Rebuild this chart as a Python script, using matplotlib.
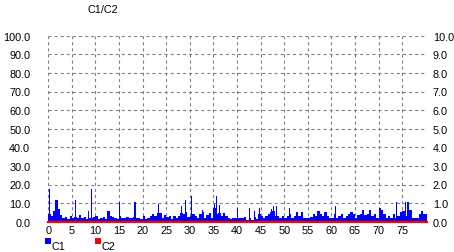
import matplotlib
matplotlib.use("Agg")
import matplotlib.pyplot as plt
import numpy as np
from matplotlib.patches import Rectangle

plt.rcParams["font.family"] = ["Liberation Sans", "DejaVu Sans"]
plt.rcParams["lines.scale_dashes"] = False

# C1 base level, one value per 0.5 step starting at 0
c1_step = 0.5
c1 = [
    4.0, 2.8, 5.9, 11.5, 6.8, 3.5, 2.0, 2.5, 1.2, 2.8,
    2.2, 2.5, 2.0, 3.5, 2.2, 2.5, 1.5, 2.0, 2.0, 2.5,
    3.0, 1.5, 2.0, 2.5, 1.2, 6.0, 3.0, 2.5, 2.2, 1.2,
    3.0, 1.8, 1.8, 2.5, 2.0, 2.0, 2.5, 1.8, 2.0, 1.5,
    2.8, 1.5, 2.2, 2.8, 4.2, 2.8, 4.5, 4.5, 1.8, 3.6,
    2.5, 2.8, 1.5, 2.8, 2.2, 2.8, 4.5, 4.0, 5.0, 2.5,
    2.8, 4.2, 2.8, 1.8, 3.9, 5.0, 2.2, 3.5, 4.5, 1.8,
    7.2, 4.3, 4.5, 3.2, 4.5, 2.8, 2.2, 1.5, 1.8, 2.2,
    1.8, 2.2, 1.8, 2.5, 1.1, 2.2, 1.1, 2.5, 1.5, 4.3,
    2.9, 1.8, 3.2, 4.3, 5.0, 6.0, 3.2, 3.2, 2.2, 3.2,
    2.2, 2.9, 3.9, 2.2, 2.9, 5.0, 2.9, 5.0, 1.8, 2.2,
    1.8, 2.5, 3.9, 3.2, 5.8, 4.3, 3.2, 5.0, 3.2, 2.2,
    1.8, 4.3, 1.8, 3.2, 3.9, 1.8, 3.2, 4.3, 5.0, 4.3,
    2.2, 3.6, 4.3, 6.5, 3.6, 4.3, 6.5, 3.2, 4.3, 1.8,
    7.2, 6.5, 3.9, 2.2, 2.9, 1.8, 4.3, 2.2, 3.2, 5.0,
    5.5, 3.2, 6.8, 6.5, 2.2, 1.8, 2.2, 4.3, 5.5, 4.3,
    4.3,
]

# narrow C1 peaks
peak_x = [0.05, 5.6, 8.4, 8.95, 15.05, 18.25, 23.2, 28.1, 29.0, 30.2,
          32.6, 35.1, 35.5, 36.1, 40.0, 42.6, 43.6, 44.6, 47.1, 47.6,
          48.3, 51.0, 60.8, 73.7, 75.6, 76.1]
peak_h = [17.6, 11.8, 5.8, 17.6, 10.6, 10.6, 9.5, 8.6, 11.5, 14.0,
          6.5, 9.5, 14.0, 9.0, 7.1, 7.1, 5.8, 7.2, 7.0, 8.6,
          8.6, 7.2, 8.6, 10.4, 10.4, 10.4]

# C2 sits on the baseline across the whole range
c2_x = [0.0, 80.2]
c2 = [0.0, 0.0]

left_ticks = [0, 10, 20, 30, 40, 50, 60, 70, 80, 90, 100]
right_ticks = [0, 1, 2, 3, 4, 5, 6, 7, 8, 9, 10]
x_ticks = list(range(0, 80, 5))

W, H = 454, 253
fig = plt.figure(figsize=(W / 100, H / 100), dpi=100)
x0, x1, ytop, ybot = 48.3, 426.7, 36.7, 222.7
ax = fig.add_axes([x0 / W, (H - ybot) / H, (x1 - x0) / W, (ybot - ytop) / H])

xs = np.arange(len(c1)) * c1_step
ax.bar(xs, c1, width=c1_step, align="edge", color="#0000ff", linewidth=0,
       antialiased=False, zorder=2)
ax.bar(peak_x, peak_h, width=0.25, align="edge", color="#0000ff", linewidth=0,
       antialiased=False, zorder=2)

ax.set_xlim(0, 80.2)
ax.set_ylim(0, 100)
ax.set_xticks(x_ticks)
ax.set_xticklabels([str(t) for t in x_ticks])
ax.set_yticks(left_ticks)
ax.set_yticklabels([f"{t:.1f}" for t in left_ticks])
ax.grid(True, color="#808080", linestyle=(0, (2.2, 2.2)), linewidth=0.8)
ax.set_axisbelow(True)
ax.tick_params(axis="both", length=0, labelsize=7.8, colors="black")
ax.tick_params(axis="y", pad=13.0)
ax.tick_params(axis="x", pad=2.5)
for s in ax.spines.values():
    s.set_visible(False)

ax2 = ax.twinx()
ax2.set_ylim(0, 10)
ax2.set_yticks(right_ticks)
ax2.set_yticklabels([f"{t:.1f}" for t in right_ticks])
ax2.tick_params(axis="y", length=0, labelsize=7.8, pad=4.5)
ax2.plot(c2_x, c2, color="#ff0000", linewidth=1.6, clip_on=False, zorder=3)
for s in ax2.spines.values():
    s.set_visible(False)

fig.text(103 / W, 1 - 10 / H, "C1/C2", ha="center", va="center", fontsize=7.8)

# legend
for lx, col, lab in [(45, "#0000ff", "C1"), (95, "#ff0000", "C2")]:
    fig.add_artist(Rectangle((lx / W, (H - 245) / H), 6 / W, 6 / H,
                             transform=fig.transFigure, color=col, linewidth=0))
    fig.text((lx + 7) / W, 1 - 247 / H, lab, ha="left", va="center", fontsize=7.8)

fig.savefig("out.png", dpi=100)
